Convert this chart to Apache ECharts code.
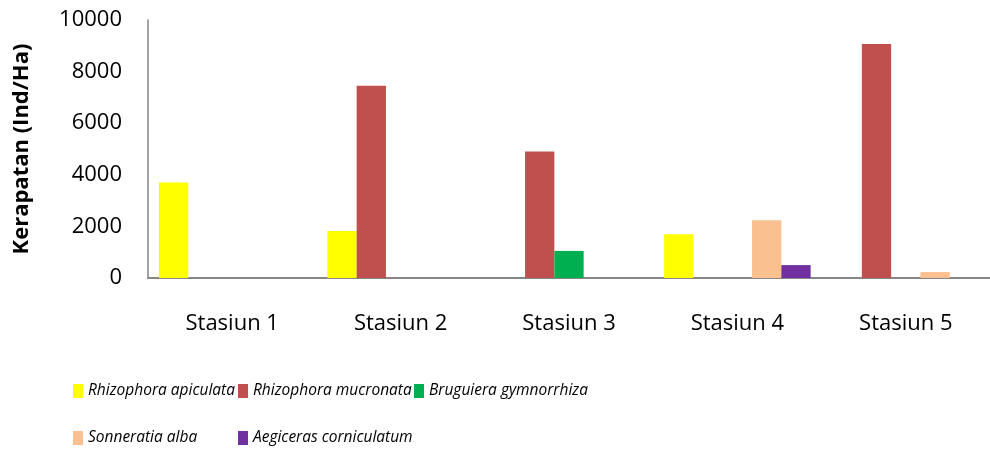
<!DOCTYPE html>
<html><head><meta charset="utf-8">
<script src="https://cdn.jsdelivr.net/npm/echarts@6/dist/echarts.min.js"></script>
<style>html,body{margin:0;padding:0;background:#fff}#c{width:990px;height:450px}</style>
</head><body><div id="c"></div>
<script>
var categories = ['Stasiun 1','Stasiun 2','Stasiun 3','Stasiun 4','Stasiun 5'];
var seriesNames = ['Rhizophora apiculata','Rhizophora mucronata','Bruguiera gymnorrhiza','Sonneratia alba','Aegiceras corniculatum'];
var rhizophoraApiculata = [3700, 1820, 0, 1700, 0];
var rhizophoraMucronata = [0, 7450, 4900, 0, 9070];
var bruguieraGymnorrhiza = [0, 0, 1050, 0, 0];
var sonneratiaAlba = [0, 0, 0, 2240, 230];
var aegicerasCorniculatum = [0, 0, 0, 500, 0];
var yTicks = {min: 0, max: 10000, interval: 2000};
var colors = ['#FFFF00','#C0504D','#00B050','#FAC090','#7030A0'];
var allData = [rhizophoraApiculata, rhizophoraMucronata, bruguieraGymnorrhiza, sonneratiaAlba, aegicerasCorniculatum];

var font = "'Open Sans', 'Liberation Sans', sans-serif";
var chart = echarts.init(document.getElementById('c'));
var legendText = {fontFamily: font, fontStyle: 'italic', fontSize: 15.5, color: '#000'};
var legendPos = [[73,383],[238,383],[414,383],[73,430],[238,430]];
var legends = seriesNames.map(function(n, i){
  return {data: [n], left: legendPos[i][0], top: legendPos[i][1], itemWidth: 10, itemHeight: 14, icon: 'rect', textStyle: legendText, selectedMode: false, padding: 0};
});
chart.setOption({
  animation: false,
  color: colors,
  grid: {left: 148, right: 0, top: 20, bottom: 172, containLabel: false},
  legend: legends,
  xAxis: {
    type: 'category', data: categories,
    axisLine: {lineStyle: {color: '#868686', width: 2}},
    axisTick: {show: false},
    axisLabel: {color: '#000', fontSize: 22, fontFamily: font, margin: 35}
  },
  yAxis: {
    type: 'value', min: yTicks.min, max: yTicks.max, interval: yTicks.interval,
    name: 'Kerapatan (Ind/Ha)', nameLocation: 'middle', nameGap: 115,
    nameTextStyle: {fontWeight: 'bold', fontSize: 22, fontFamily: font, color: '#000'},
    axisLine: {show: true, lineStyle: {color: '#868686', width: 1.5}},
    axisTick: {show: false},
    splitLine: {show: false},
    axisLabel: {color: '#000', fontSize: 22, fontFamily: font, margin: 26, padding: [3, 0, 0, 0], formatter: function(v){ return String(v); }}
  },
  series: seriesNames.map(function(n, i){
    return {name: n, type: 'bar', data: allData[i], barGap: '0%', barCategoryGap: '13%', itemStyle: {color: colors[i]}};
  })
});
</script></body></html>
